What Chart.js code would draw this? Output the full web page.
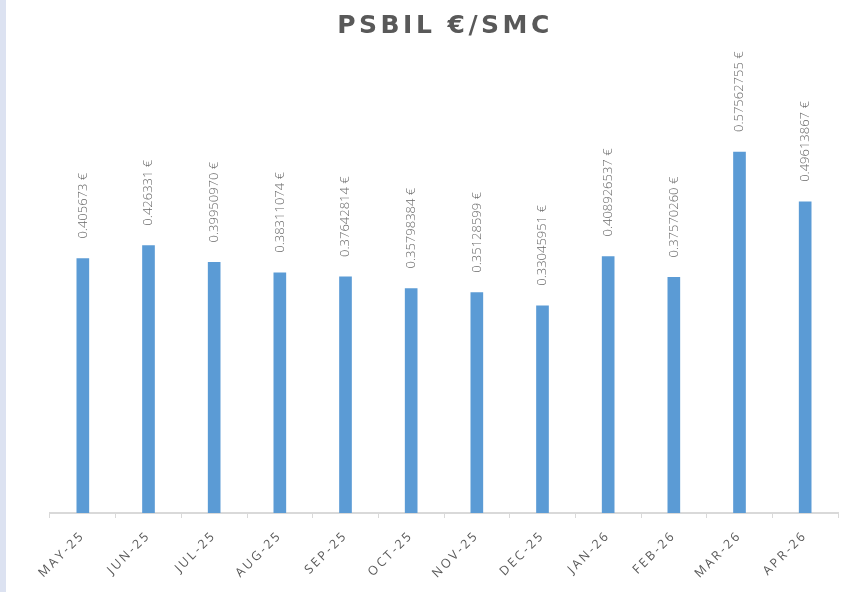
<!DOCTYPE html>
<html>
<head>
<meta charset="utf-8">
<title>PSBIL €/SMC</title>
<script src="https://cdn.jsdelivr.net/npm/chart.js@4.4.1/dist/chart.umd.min.js"></script>
<style>
  html, body { margin: 0; padding: 0; }
  body {
    width: 853px; height: 592px; overflow: hidden;
    background: linear-gradient(to right, #dce2f1 6px, #ffffff 6px);
  }
  #wrap { position: relative; width: 853px; height: 592px; }
</style>
</head>
<body>
<div id="wrap"><canvas id="priceChart" width="853" height="592"></canvas></div>
<script>
const months = ['MAY-25', 'JUN-25', 'JUL-25', 'AUG-25', 'SEP-25', 'OCT-25',
                'NOV-25', 'DEC-25', 'JAN-26', 'FEB-26', 'MAR-26', 'APR-26'];
// prices as published (kept as text so trailing zeros survive in the labels)
const priceText = ['0.405673', '0.426331', '0.39950970', '0.38311074', '0.37642814', '0.35798384',
                   '0.35128599', '0.33045951', '0.408926537', '0.37570260', '0.57562755', '0.49613867'];
const prices = priceText.map(Number);
const chartTitle = 'PSBIL €/SMC';

const GREY = '#595959';

// wide tracking for the axis labels
const tracking = {
  id: 'tracking',
  beforeDraw(chart) { chart.ctx.letterSpacing = '2.5px'; }
};

// title text, drawn by hand so it can have its own tracking
const titleText = {
  id: 'titleText',
  afterDraw(chart) {
    const ctx = chart.ctx;
    const area = chart.chartArea;
    ctx.save();
    ctx.letterSpacing = '3.5px';
    ctx.font = 'bold 25px "DejaVu Sans", sans-serif';
    ctx.fillStyle = GREY;
    ctx.textAlign = 'center';
    ctx.textBaseline = 'middle';
    ctx.fillText(chartTitle, (area.left + area.right) / 2 + 1, 26);
    ctx.restore();
  }
};

// vertical value labels above each bar
const barLabels = {
  id: 'barLabels',
  afterDatasetsDraw(chart) {
    const ctx = chart.ctx;
    const meta = chart.getDatasetMeta(0);
    ctx.save();
    ctx.letterSpacing = '0px';
    ctx.font = '300 13px "Open Sans", sans-serif';
    ctx.fillStyle = '#6a6a6a';
    ctx.textAlign = 'left';
    ctx.textBaseline = 'middle';
    meta.data.forEach((bar, i) => {
      ctx.save();
      ctx.translate(bar.x, bar.y - 20);
      ctx.rotate(-Math.PI / 2);
      ctx.fillText(priceText[i] + ' €', 0, 0);
      ctx.restore();
    });
    ctx.restore();
  }
};

const ctx = document.getElementById('priceChart').getContext('2d');
const priceChart = new Chart(ctx, {
  type: 'bar',
  data: {
    labels: months,
    datasets: [{
      label: chartTitle,
      data: prices,
      backgroundColor: '#5b9bd5',
      barThickness: 12
    }]
  },
  options: {
    responsive: false,
    animation: false,
    layout: { padding: { left: 50, right: 15, top: 74, bottom: 0 } },
    plugins: {
      legend: { display: false },
      tooltip: { enabled: false },
      title: { display: false }
    },
    scales: {
      y: {
        display: false,
        min: 0,
        max: 0.7
      },
      x: {
        grid: {
          drawOnChartArea: false,
          drawTicks: true,
          tickLength: 5,
          color: '#d9d9d9',
          offset: true
        },
        border: { color: '#d9d9d9', width: 2 },
        ticks: {
          autoSkip: false,
          minRotation: 45,
          maxRotation: 45,
          padding: 10,
          color: GREY,
          font: { family: '"Open Sans", sans-serif', size: 12.5 }
        },
        afterFit(scale) { scale.height = 79; }
      }
    }
  },
  plugins: [tracking, titleText, barLabels]
});
</script>
</body>
</html>
